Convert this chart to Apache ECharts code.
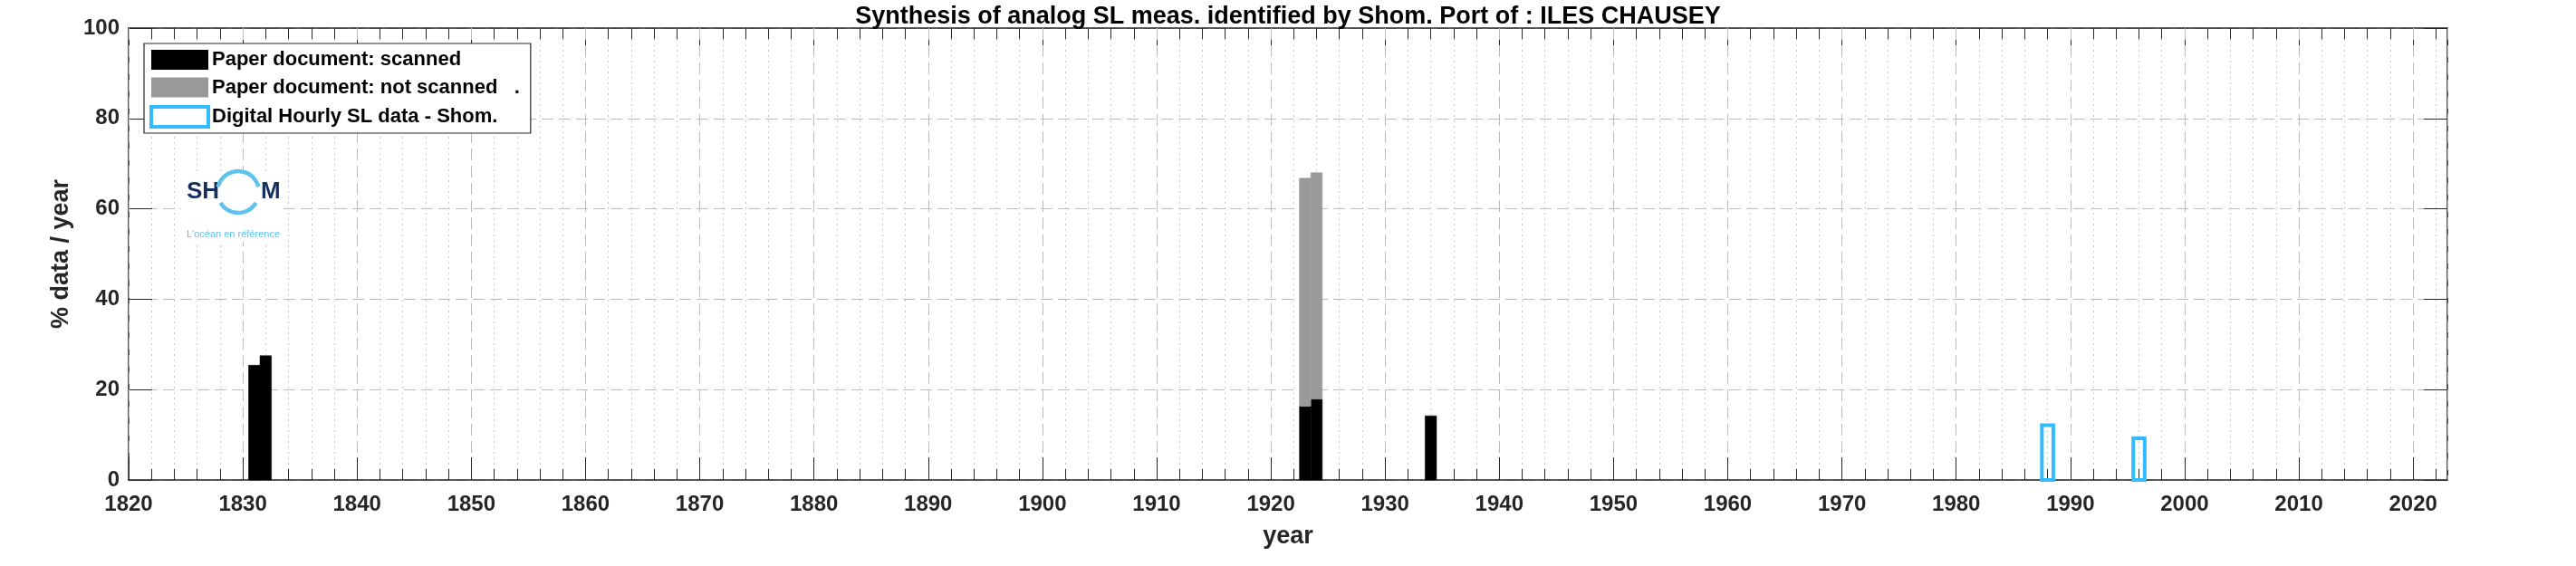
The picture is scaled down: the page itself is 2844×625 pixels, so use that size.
<!DOCTYPE html>
<html><head><meta charset="utf-8">
<script src="https://cdn.jsdelivr.net/npm/echarts@6/dist/echarts.min.js"></script>
<style>html,body{margin:0;padding:0;background:#fff}#c{width:2844px;height:625px}</style>
</head><body><div id="c"></div>
<script>
const titleText = 'Synthesis of analog SL meas. identified by Shom. Port of : ILES CHAUSEY';
const seriesNames = ['Paper document: scanned', 'Paper document: not scanned   .', 'Digital Hourly SL data - Shom.'];
const scannedYears = [1831, 1832, 1923, 1924, 1934];
const scannedPct = [25.4, 27.5, 16.3, 17.9, 14.2];
const notScannedYears = [1923, 1924];
const notScannedPct = [50.5, 50.1];
const digitalYears = [1988, 1996];
const digitalPct = [12.1, 9.2];
const xMin = 1820, xMax = 2023, xMajor = 10, xMinor = 2;
const yMin = 0, yMax = 100, yMajor = 20;
const xName = 'year', yName = '% data / year';

const TXT = '#262626';
const FONT = 'Liberation Sans, Arial, sans-serif';

const scannedData = scannedYears.map((y, i) => [y, 0, scannedPct[i]]);
const notScannedData = notScannedYears.map((y, i) => {
  const k = scannedYears.indexOf(y);
  const base = k >= 0 ? scannedPct[k] : 0;
  return [y, base, base + notScannedPct[i]];
});
const digitalData = digitalYears.map((y, i) => [y, 0, digitalPct[i]]);

function rectRenderer(style) {
  return function (params, api) {
    const x = api.value(0), lo = api.value(1), hi = api.value(2);
    const p0 = api.coord([x - 0.5, hi]);
    const p1 = api.coord([x + 0.5, lo]);
    return {
      type: 'rect',
      shape: { x: p0[0], y: p0[1], width: p1[0] - p0[0], height: p1[1] - p0[1] },
      style: Object.assign({}, style)
    };
  };
}

const minorColors = ['rgba(0,0,0,0)', '#c8c8c8', '#c8c8c8', '#c8c8c8', '#c8c8c8'];
const axisLineStyle = { color: TXT, width: 1.5 };

const chart = echarts.init(document.getElementById('c'), null, { renderer: 'canvas' });
chart.setOption({
  animation: false,
  backgroundColor: '#fff',
  title: {
    text: titleText, left: 'center', top: 0,
    textStyle: { fontFamily: FONT, fontSize: 27, fontWeight: 'bold', color: '#000' }
  },
  grid: { left: 142, right: 142, top: 31, bottom: 95, containLabel: false },
  legend: {
    orient: 'vertical', left: 159, top: 48,
    padding: [7, 12, 5, 6], itemGap: 8.5, itemWidth: 63, itemHeight: 22,
    backgroundColor: '#fff', borderColor: TXT, borderWidth: 1.2,
    textStyle: { fontFamily: FONT, fontSize: 22, fontWeight: 'bold', color: '#000', lineHeight: 22, padding: [0, 0, 0, -1] },
    selectedMode: false,
    data: [
      { name: seriesNames[0], icon: 'rect', itemStyle: { color: '#000', borderWidth: 0 } },
      { name: seriesNames[1], icon: 'rect', itemStyle: { color: '#999999', borderWidth: 0 } },
      { name: seriesNames[2], icon: 'rect', itemStyle: { color: '#fff', borderColor: '#33bbff', borderWidth: 4 } }
    ]
  },
  xAxis: [
    {
      type: 'value', position: 'bottom', min: xMin, max: xMax, interval: xMajor,
      name: xName, nameLocation: 'middle', nameGap: 49,
      nameTextStyle: { fontFamily: FONT, fontSize: 27, fontWeight: 'bold', color: TXT },
      axisLine: { show: true, lineStyle: axisLineStyle },
      axisTick: { show: true, inside: true, length: 25, lineStyle: { color: TXT, width: 1 } },
      axisLabel: { show: true, margin: 15, showMaxLabel: false, formatter: v => String(v), fontFamily: FONT, fontSize: 24, fontWeight: 'bold', color: TXT },
      splitLine: { show: true, lineStyle: { type: [13, 6], color: '#bbbbbb', width: 1 } },
      z: 1
    },
    {
      type: 'value', position: 'bottom', min: xMin, max: xMax, interval: xMinor,
      axisLine: { show: false },
      axisTick: { show: true, inside: true, length: 12, lineStyle: { color: TXT, width: 1 } },
      axisLabel: { show: false },
      splitLine: { show: true, lineStyle: { type: [2, 4], color: minorColors, width: 1 } },
      z: 0
    },
    {
      type: 'value', position: 'top', min: xMin, max: xMax, interval: xMajor,
      axisLine: { show: true, lineStyle: axisLineStyle },
      axisTick: { show: true, inside: true, length: 25, lineStyle: { color: TXT, width: 1 } },
      axisLabel: { show: false }, splitLine: { show: false }
    },
    {
      type: 'value', position: 'top', min: xMin, max: xMax, interval: xMinor,
      axisLine: { show: false },
      axisTick: { show: true, inside: true, length: 12, lineStyle: { color: TXT, width: 1 } },
      axisLabel: { show: false }, splitLine: { show: false }
    }
  ],
  yAxis: [
    {
      type: 'value', position: 'left', min: yMin, max: yMax, interval: yMajor,
      name: yName, nameLocation: 'middle', nameGap: 51, nameRotate: 90,
      nameTextStyle: { fontFamily: FONT, fontSize: 27, fontWeight: 'bold', color: TXT },
      axisLine: { show: true, lineStyle: axisLineStyle },
      axisTick: { show: true, inside: true, length: 26, lineStyle: { color: TXT, width: 1 } },
      axisLabel: { show: true, margin: 10, formatter: v => String(v), fontFamily: FONT, fontSize: 24, fontWeight: 'bold', color: TXT },
      splitLine: { show: true, lineStyle: { type: [13, 6], color: '#bbbbbb', width: 1 } }
    },
    {
      type: 'value', position: 'right', min: yMin, max: yMax, interval: yMajor,
      axisLine: { show: true, lineStyle: axisLineStyle },
      axisTick: { show: true, inside: true, length: 26, lineStyle: { color: TXT, width: 1 } },
      axisLabel: { show: false }, splitLine: { show: false }
    }
  ],
  graphic: [
    { type: 'rect', z: 10, shape: { x: 200, y: 189, width: 113, height: 78 }, style: { fill: '#fff' } },
    { type: 'text', z: 11, x: 206, y: 199, style: { text: 'SH', fill: '#15305e', font: 'bold 26px ' + FONT } },
    { type: 'text', z: 11, x: 288, y: 199, style: { text: 'M', fill: '#15305e', font: 'bold 26px ' + FONT } },
    { type: 'arc', z: 11, shape: { cx: 263, cy: 212, r: 23, startAngle: Math.PI + 0.25, endAngle: 2 * Math.PI - 0.25, clockwise: true }, style: { stroke: '#5ec4ec', lineWidth: 4.5, fill: null } },
    { type: 'arc', z: 11, shape: { cx: 263, cy: 212, r: 23, startAngle: 0.55, endAngle: Math.PI - 0.55, clockwise: true }, style: { stroke: '#5ec4ec', lineWidth: 4.5, fill: null } },
    { type: 'text', z: 11, x: 206, y: 253, style: { text: "L'océan en référence", fill: '#5ec4ec', font: '11px ' + FONT } }
  ],
  series: [
    {
      name: seriesNames[0], type: 'custom', xAxisIndex: 0, yAxisIndex: 0,
      encode: { x: 0, y: [1, 2] }, data: scannedData, z: 3,
      itemStyle: { color: '#000' },
      renderItem: rectRenderer({ fill: '#000', stroke: '#000', lineWidth: 0.5 })
    },
    {
      name: seriesNames[1], type: 'custom', xAxisIndex: 0, yAxisIndex: 0,
      encode: { x: 0, y: [1, 2] }, data: notScannedData, z: 3,
      itemStyle: { color: '#999999' },
      renderItem: rectRenderer({ fill: '#999999', stroke: '#999999', lineWidth: 0.5 })
    },
    {
      name: seriesNames[2], type: 'custom', xAxisIndex: 0, yAxisIndex: 0,
      encode: { x: 0, y: [1, 2] }, data: digitalData, z: 3,
      itemStyle: { color: '#fff', borderColor: '#33bbff' },
      renderItem: rectRenderer({ fill: null, stroke: '#33bbff', lineWidth: 4 })
    }
  ]
});
</script></body></html>
